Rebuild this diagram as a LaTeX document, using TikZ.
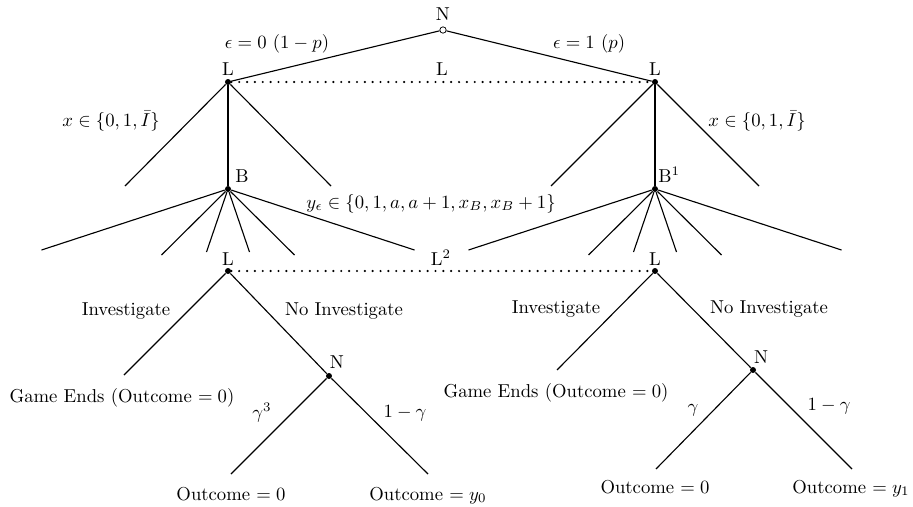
\documentclass[tikz,border=0pt]{standalone}
\begin{document}
\begin{tikzpicture}[x=0.535pt,y=-0.535pt,
  pdot/.style={circle,fill=black,inner sep=0pt,minimum size=3.2pt},
  odot/.style={circle,draw=black,fill=white,line width=0.4pt,inner sep=0pt,minimum size=3.4pt},
  leaf/.style={coordinate},
  lbl/.style={inner sep=0pt,anchor=base},
  br/.style={semithick},
  infoset/.style={line width=1.3pt,line cap=round,dash pattern=on 0pt off 4.2pt}]
\useasboundingbox (0,0) rectangle (913,506);
% nodes
\node[odot] (root) at (443,30) {};
\node[pdot] (L0) at (228,82) {};
\node[pdot] (L1) at (655,82) {};
\node[leaf] (x0a) at (125,186) {};
\node[pdot] (B0) at (228,189) {};
\node[leaf] (x0c) at (331,186) {};
\node[leaf] (x1a) at (551,186) {};
\node[pdot] (B1) at (655,189) {};
\node[leaf] (x1c) at (759,186) {};
% B children
\node[leaf] (b0a) at (41.5,250) {};
\node[leaf] (b0b) at (161.5,255) {};
\node[leaf] (b0c) at (206.5,252) {};
\node[leaf] (b0d) at (249.5,252) {};
\node[leaf] (b0e) at (294.5,255) {};
\node[leaf] (b0f) at (414.5,250) {};
\node[leaf] (b1a) at (468.5,250) {};
\node[leaf] (b1b) at (588.5,255) {};
\node[leaf] (b1c) at (633.5,252) {};
\node[leaf] (b1d) at (676.5,252) {};
\node[leaf] (b1e) at (721.5,255) {};
\node[leaf] (b1f) at (841.5,250) {};
% lower
\node[pdot] (M0) at (228,271) {};
\node[pdot] (M1) at (655,271) {};
\node[leaf] (I0) at (124,375) {};
\node[pdot] (N0) at (329,376) {};
\node[leaf] (O0a) at (231,474) {};
\node[leaf] (O0b) at (428,474) {};
\node[leaf] (I1) at (557,370) {};
\node[pdot] (N1) at (753,370) {};
\node[leaf] (O1a) at (656,469) {};
\node[leaf] (O1b) at (852,469) {};
% branches
\draw[br] (root) -- (L0);
\draw[br] (root) -- (L1);
\foreach \a/\b in {L0/x0a,L0/B0,L0/x0c,L1/x1a,L1/B1,L1/x1c,
  B0/b0a,B0/b0b,B0/b0c,B0/b0d,B0/b0e,B0/b0f,
  B1/b1a,B1/b1b,B1/b1c,B1/b1d,B1/b1e,B1/b1f,
  M0/I0,M0/N0,N0/O0a,N0/O0b,M1/I1,M1/N1,N1/O1a,N1/O1b}
  \draw[br] (\a) -- (\b);
\draw[infoset] (L0) -- (L1);
\draw[infoset] (M0) -- (M1);
% labels
\node[lbl] (tN) at (443,21) {N};
\node[lbl] (tL0) at (228,75) {L};
\node[lbl] (tLm) at (442,75) {L};
\node[lbl] (tL1) at (655,75) {L};
\node[lbl] (te0) at (277,48) {$\epsilon=0\ (1-p)$};
\node[lbl] (te1) at (589,48) {$\epsilon=1\ (p)$};
\node[lbl] (tx0) at (111,126) {$x\in\{0,1,\bar{I}\}$};
\node[lbl] (tx1) at (757,126) {$x\in\{0,1,\bar{I}\}$};
\node[lbl,anchor=base west] (tB0) at (235,182) {B};
\node[lbl,anchor=base west] (tB1) at (658,182) {B$^1$};
\node[lbl] (ty) at (431,208) {$y_\epsilon\in\{0,1,a,a+1,x_B,x_B+1\}$};
\node[lbl] (tM0) at (228,265) {L};
\node[lbl] (tL2) at (441,265) {L$^2$};
\node[lbl] (tM1) at (655,265) {L};
\node[lbl] (ti0) at (126,315) {Investigate};
\node[lbl] (tn0) at (344,315) {No Investigate};
\node[lbl] (tN0) at (337,368) {N};
\node[lbl] (tg0) at (122,402) {Game Ends (Outcome $=0$)};
\node[lbl] (tc0) at (262,418) {$\gamma^3$};
\node[lbl] (td0) at (405,417) {$1-\gamma$};
\node[lbl] (to0a) at (231,500) {Outcome $=0$};
\node[lbl] (to0b) at (428,500) {Outcome $=y_0$};
\node[lbl] (ti1) at (556,313) {Investigate};
\node[lbl] (tn1) at (769,313) {No Investigate};
\node[lbl] (tN1) at (761,363) {N};
\node[lbl] (tg1) at (556,397) {Game Ends (Outcome $=0$)};
\node[lbl] (tc1) at (693,412) {$\gamma$};
\node[lbl] (td1) at (829,410) {$1-\gamma$};
\node[lbl] (to1a) at (655,493) {Outcome $=0$};
\node[lbl] (to1b) at (851,493) {Outcome $=y_1$};
\end{tikzpicture}
\end{document}
